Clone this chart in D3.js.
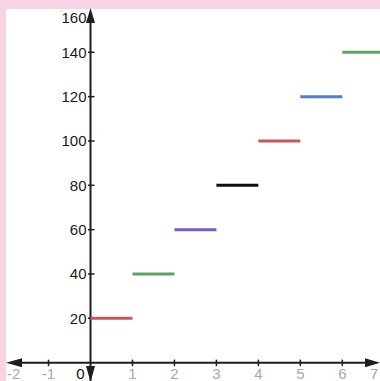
<!DOCTYPE html>
<html>
<head>
<meta charset="utf-8">
<script src="https://cdn.jsdelivr.net/npm/d3@7"></script>
<style>
  html, body { margin: 0; padding: 0; background: #f8d3e3; }
  svg { display: block; }
</style>
</head>
<body>
<div id="chart"></div>
<script>
var xTicks = [-2, -1, 0, 1, 2, 3, 4, 5, 6, 7];
var yTicks = [20, 40, 60, 80, 100, 120, 140, 160];
var stepStart = [0, 1, 2, 3, 4, 5, 6];
var stepEnd = [1, 2, 3, 4, 5, 6, 7];
var stepValue = [20, 40, 60, 80, 100, 120, 140];
var stepColor = ["#c9575a", "#5fa35f", "#7a5cc4", "#111111", "#c9575a", "#4a80cf", "#5fa35f"];

function init()
{
    var w = 380, h = 381;
    var svg = d3.select("#chart").append("svg")
        .attr("width", w)
        .attr("height", h);

    // white plot area inside the pink border
    svg.append("rect")
        .attr("x", 6).attr("y", 9)
        .attr("width", w - 6).attr("height", h - 9)
        .attr("fill", "#ffffff");

    var xScale = d3.scaleLinear().domain([0, 6]).range([90.5, 342.3]);
    var yScale = d3.scaleLinear().domain([20, 140]).range([318.3, 52.3]);
    var x0 = xScale(0), y0 = yScale(0);

    var axisColor = "#1e1e1e";

    // x axis line with arrows
    svg.append("line")
        .attr("x1", 14).attr("x2", w - 6)
        .attr("y1", y0).attr("y2", y0)
        .attr("stroke", axisColor).attr("stroke-width", 2);
    svg.append("path")
        .attr("d", "M6," + y0 + " L22," + (y0 - 4.5) + " L22," + (y0 + 4.5) + "Z")
        .attr("fill", axisColor);
    svg.append("path")
        .attr("d", "M" + w + "," + y0 + " L" + (w - 15) + "," + (y0 - 4.5) + " L" + (w - 15) + "," + (y0 + 4.5) + "Z")
        .attr("fill", axisColor);

    // y axis line with arrows
    svg.append("line")
        .attr("x1", x0).attr("x2", x0)
        .attr("y1", 16).attr("y2", h)
        .attr("stroke", axisColor).attr("stroke-width", 2);
    svg.append("path")
        .attr("d", "M" + x0 + ",8 L" + (x0 - 4.5) + ",23 L" + (x0 + 4.5) + ",23Z")
        .attr("fill", axisColor);
    svg.append("path")
        .attr("d", "M" + x0 + ",382 L" + (x0 - 4.5) + ",366 L" + (x0 + 4.5) + ",366Z")
        .attr("fill", axisColor);

    // x ticks and labels (edge labels nudged inward so they stay visible)
    var xShift = { "-2": 7, "-1": 0, "0": -10, "7": -10 };
    var xt = svg.selectAll(".xt").data(xTicks).enter().append("g")
        .attr("transform", function(d){ return "translate(" + xScale(d) + "," + y0 + ")"; });
    xt.filter(function(d){ return d !== 0 && d !== 7 && d !== -2; })
        .append("line")
        .attr("y1", -3).attr("y2", 3.5)
        .attr("stroke", axisColor).attr("stroke-width", 1.5);
    xt.append("text")
        .text(function(d){ return d; })
        .attr("x", function(d){ return xShift[d] || 0; })
        .attr("y", 16.5)
        .attr("text-anchor", "middle")
        .attr("font-family", "Liberation Sans, Arial, sans-serif")
        .attr("font-size", 15)
        .attr("fill", function(d){ return d === 0 ? "#111" : "#a8a8a8"; });

    // y ticks and labels
    var yt = svg.selectAll(".yt").data(yTicks).enter().append("g")
        .attr("transform", function(d){ return "translate(" + x0 + "," + yScale(d) + ")"; });
    yt.filter(function(d){ return d !== 160; })
        .append("line")
        .attr("x1", -2.5).attr("x2", 4)
        .attr("stroke", axisColor).attr("stroke-width", 1.5);
    yt.append("text")
        .text(function(d){ return d; })
        .attr("x", -4)
        .attr("y", function(d){ return Math.max(yScale(d), 18) - yScale(d); })
        .attr("dy", "0.35em")
        .attr("text-anchor", "end")
        .attr("font-family", "Liberation Sans, Arial, sans-serif")
        .attr("font-size", 15)
        .attr("fill", "#1a1a1a");

    // step segments
    svg.selectAll(".step").data(stepValue).enter().append("line")
        .attr("x1", function(d, i){ return xScale(stepStart[i]); })
        .attr("x2", function(d, i){ return xScale(stepEnd[i]); })
        .attr("y1", function(d){ return yScale(d); })
        .attr("y2", function(d){ return yScale(d); })
        .attr("stroke", function(d, i){ return stepColor[i]; })
        .attr("stroke-width", 3);
}
window.onload = init;
</script>
</body>
</html>
